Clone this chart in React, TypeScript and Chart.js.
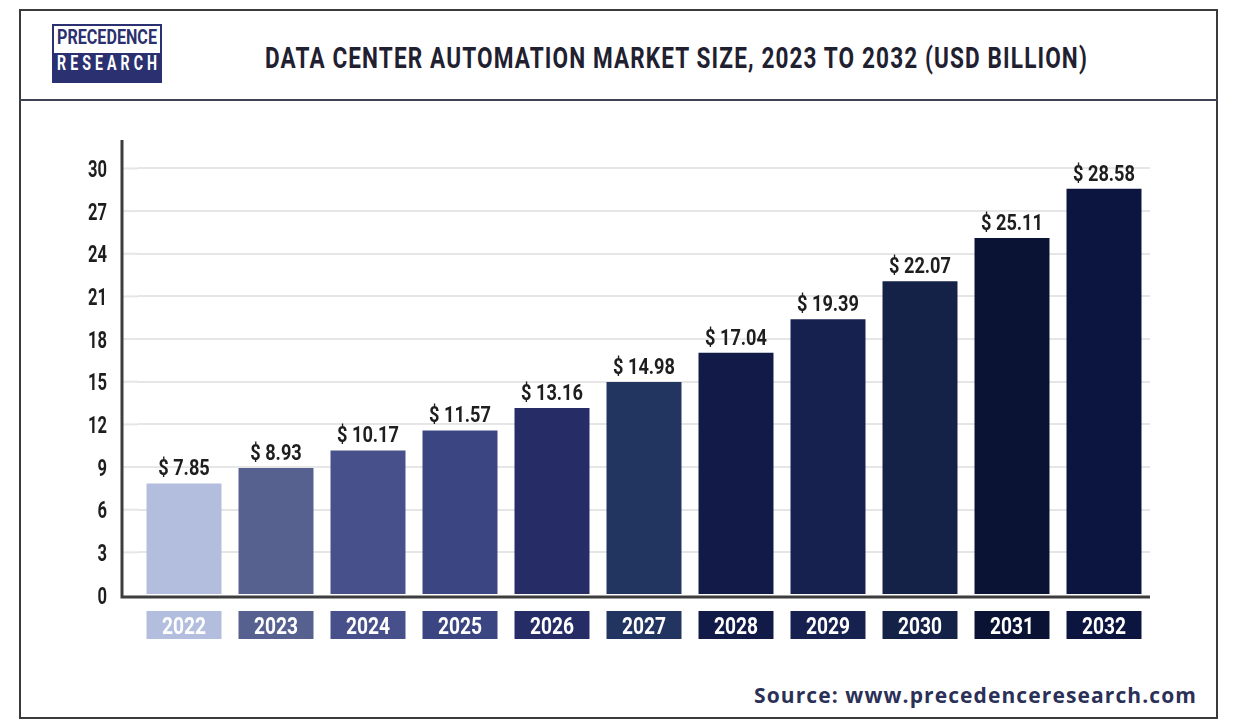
import React, { useEffect, useRef } from 'react';
import { Chart, registerables } from 'chart.js';

Chart.register(...registerables);

const years = ['2022', '2023', '2024', '2025', '2026', '2027', '2028', '2029', '2030', '2031', '2032'];
const marketSize = [7.85, 8.93, 10.17, 11.57, 13.16, 14.98, 17.04, 19.39, 22.07, 25.11, 28.58];
const barColors = [
    '#b3bedf', '#57618f', '#47508a', '#3b4582', '#262d66', '#223560',
    '#121b48', '#17214f', '#152247', '#0b1335', '#0c1440',
];
const yTicks = [0, 3, 6, 9, 12, 15, 18, 21, 24, 27, 30];

const FONT = 'Roboto, sans-serif';
const AXIS_GAP = 16; // y axis line sits left of the first category

// draw text squeezed horizontally so it looks like a condensed face
const drawNarrow = (ctx: CanvasRenderingContext2D, text: string, x: number, y: number, sx: number, align: CanvasTextAlign) => {
    ctx.save();
    ctx.translate(x, y);
    ctx.scale(sx, 1);
    ctx.textAlign = align;
    ctx.textBaseline = 'alphabetic';
    ctx.fillText(text, 0, 0);
    ctx.restore();
};

const squeeze = (ctx: CanvasRenderingContext2D, font: string, sample: string, width: number) => {
    ctx.font = font;
    return width / ctx.measureText(sample).width;
};

const decorPlugin = {
    id: 'decor',
    beforeDatasetsDraw(chart: any) {
        const { ctx, chartArea } = chart;
        const y = chart.scales.y;
        const left = chartArea.left - AXIS_GAP;
        ctx.save();
        ctx.strokeStyle = '#e6e6e6';
        ctx.lineWidth = 2;
        yTicks.forEach(t => {
            if (t === 0) return;
            const py = y.getPixelForValue(t);
            ctx.beginPath();
            ctx.moveTo(left, py);
            ctx.lineTo(chartArea.left, py);
            ctx.stroke();
        });

        // y tick labels
        const tickFont = `bold 24px ${FONT}`;
        const sxTick = squeeze(ctx, tickFont, '30', 19);
        ctx.fillStyle = '#1e1e1e';
        yTicks.forEach(t => {
            drawNarrow(ctx, String(t), left - 15, y.getPixelForValue(t) + 8.5, sxTick, 'right');
        });
        ctx.restore();
    },
    afterDatasetsDraw(chart: any) {
        const { ctx, chartArea } = chart;
        const meta = chart.getDatasetMeta(0);
        const left = chartArea.left - AXIS_GAP;
        ctx.save();
        ctx.strokeStyle = '#3d3d3d';
        ctx.lineWidth = 3;
        ctx.beginPath();
        ctx.moveTo(left, chartArea.top);
        ctx.lineTo(left, chartArea.bottom + 2);
        ctx.lineTo(chartArea.right, chartArea.bottom + 2);
        ctx.stroke();

        const valueFont = `bold 22px ${FONT}`;
        const sxValue = squeeze(ctx, valueFont, '$ 28.58', 62);
        const yearFont = `bold 24px ${FONT}`;
        const sxYear = squeeze(ctx, yearFont, '2032', 44);

        meta.data.forEach((bar: any, i: number) => {
            ctx.font = valueFont;
            ctx.fillStyle = '#1e1e1e';
            drawNarrow(ctx, `$ ${marketSize[i].toFixed(2)}`, bar.x, bar.y - 8, sxValue, 'center');

            const w = bar.width;
            const top = chartArea.bottom + 16;
            ctx.fillStyle = barColors[i];
            ctx.fillRect(bar.x - w / 2, top, w, 28);
            ctx.font = yearFont;
            ctx.fillStyle = '#ffffff';
            drawNarrow(ctx, years[i], bar.x, top + 23, sxYear, 'center');
        });
        ctx.restore();
    },
};

const MarketChart: React.FC = () => {
    const canvasRef = useRef<HTMLCanvasElement>(null);
    const chartInstance = useRef<Chart | null>(null);

    useEffect(() => {
        if (!canvasRef.current) return;
        if (chartInstance.current) chartInstance.current.destroy();

        chartInstance.current = new Chart(canvasRef.current, {
            type: 'bar',
            data: {
                labels: years,
                datasets: [{
                    data: marketSize,
                    backgroundColor: barColors,
                    borderWidth: 0,
                    barPercentage: 0.815,
                    categoryPercentage: 1,
                }],
            },
            options: {
                animation: false,
                responsive: true,
                maintainAspectRatio: false,
                layout: { padding: { top: 38, right: 66, bottom: 63, left: 0 } },
                plugins: { legend: { display: false }, tooltip: { enabled: false } },
                scales: {
                    x: { display: false },
                    y: {
                        min: 0,
                        max: 32,
                        afterBuildTicks: (scale: any) => {
                            scale.ticks = yTicks.map(v => ({ value: v }));
                        },
                        afterFit: (scale: any) => { scale.width = 116; },
                        border: { display: false },
                        grid: {
                            color: (c: any) => (c.tick && c.tick.value === 0 ? 'rgba(0,0,0,0)' : '#e6e6e6'),
                            lineWidth: 2,
                            drawTicks: false,
                        },
                        ticks: { display: false },
                    },
                },
            },
            plugins: [decorPlugin],
        } as any);

        return () => {
            if (chartInstance.current) {
                chartInstance.current.destroy();
                chartInstance.current = null;
            }
        };
    }, []);

    return <canvas ref={canvasRef}></canvas>;
};

// text squeezed to a given width, top given as the cap-top line
const measureCtx = document.createElement('canvas').getContext('2d') as CanvasRenderingContext2D;

interface FitTextProps {
    text: string;
    left: number;
    capTop: number;
    size: number;
    width: number;
    color: string;
    spacing?: number;
}

const FitText: React.FC<FitTextProps> = ({ text, left, capTop, size, width, color, spacing = 0 }) => {
    measureCtx.font = `bold ${size}px ${FONT}`;
    const natural = measureCtx.measureText(text).width + spacing * (text.length - 1);
    const sx = width / natural;
    return (
        <div style={{
            position: 'absolute', left, top: capTop - 0.131 * size, whiteSpace: 'nowrap',
            fontFamily: FONT, fontWeight: 'bold', fontSize: size, lineHeight: `${size}px`,
            letterSpacing: spacing, color, transform: `scaleX(${sx})`, transformOrigin: 'left top',
        }}>
            {text}
        </div>
    );
};

const App: React.FC = () => {
    useEffect(() => {
        document.body.style.margin = '0';
    }, []);

    return (
        <div style={{ position: 'relative', width: 1238, height: 728, background: '#fff', overflow: 'hidden' }}>
            <div style={{
                position: 'absolute', left: 19, top: 9, width: 1199, height: 710,
                border: '2px solid #3a3a3a', boxSizing: 'border-box',
            }} />
            <div style={{ position: 'absolute', left: 19, top: 99, width: 1199, height: 2, background: '#3f4155' }} />

            {/* logo */}
            <div style={{
                position: 'absolute', left: 52, top: 24, width: 110, height: 59,
                border: '2px solid #2b3170', boxSizing: 'border-box',
            }}>
                <div style={{ position: 'absolute', left: 0, top: 27, width: 106, height: 30, background: '#2b3170' }} />
            </div>
            <FitText text="PRECEDENCE" left={57} capTop={30} size={21} width={100} color="#2b3170" />
            <FitText text="RESEARCH" left={57} capTop={56} size={21} width={100} color="#ffffff" spacing={6} />

            <FitText
                text="DATA CENTER AUTOMATION MARKET SIZE, 2023 TO 2032 (USD BILLION)"
                left={265} capTop={47} size={30} width={823} color="#1f2030" spacing={1.5}
            />

            <div style={{ position: 'absolute', left: 22, top: 102, width: 1194, height: 556 }}>
                <MarketChart />
            </div>

            <div style={{
                position: 'absolute', right: 41, top: 681, fontFamily: "'Open Sans', sans-serif",
                fontWeight: 'bold', fontSize: 21, color: '#2b3057', letterSpacing: 1.1, whiteSpace: 'nowrap',
            }}>
                Source: www.precedenceresearch.com
            </div>
        </div>
    );
};

export default App;
